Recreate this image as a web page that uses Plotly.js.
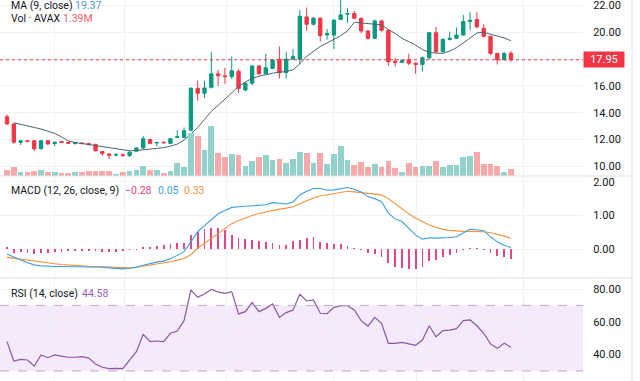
<!DOCTYPE html>
<html>
<head>
<meta charset="utf-8">
<script src="https://cdn.plot.ly/plotly-3.0.1.min.js"></script>
<style>
html,body{margin:0;padding:0;background:#fff;}
#chart{width:640px;height:381px;}
</style>
</head>
<body>
<div id="chart"></div>
<script>
// ---- Price (OHLC) ----
const opens  = [13.70,13.16,11.80,11.90,11.91,11.31,11.91,11.70,11.84,11.79,11.70,11.74,11.70,11.64,11.10,10.92,10.84,10.86,10.80,11.13,
                11.37,12.00,11.74,11.80,11.72,12.16,12.16,12.70,15.82,15.45,15.90,16.90,16.75,16.70,17.09,15.70,16.20,17.49,16.90,17.30,
                17.98,17.00,18.00,18.00,21.15,20.60,21.05,19.80,19.80,20.97,21.35,21.40,21.05,20.10,19.55,20.85,20.15,17.85,17.75,17.95,
                17.70,17.60,18.10,19.97,18.55,19.47,19.55,19.80,20.80,20.95,20.30,19.70,18.43,17.95,18.43];
const closes = [13.16,11.80,11.90,11.86,11.31,11.91,11.66,11.80,11.79,11.72,11.75,11.70,11.62,11.16,10.96,10.82,10.88,10.82,11.05,11.37,
                12.06,11.70,11.78,11.76,12.06,12.20,12.66,15.82,15.45,15.85,16.90,16.75,16.70,17.13,15.82,16.20,17.49,16.90,17.35,17.93,
                16.98,18.00,18.20,21.20,20.60,21.05,19.75,19.90,20.90,21.30,21.40,21.05,20.10,19.55,20.85,20.15,17.80,17.75,17.90,17.70,
                17.60,18.10,19.97,18.55,19.47,19.55,19.80,20.80,20.90,20.40,19.70,18.43,17.95,18.43,17.95];
const highs  = [13.85,13.20,11.95,11.95,11.95,11.95,11.95,11.84,11.88,11.82,11.78,11.78,11.74,11.68,11.14,10.96,10.98,10.96,11.18,11.42,
                12.26,12.06,11.82,11.84,12.10,12.70,12.90,15.90,16.40,16.40,18.55,17.20,17.35,18.20,17.25,16.25,17.55,17.55,18.40,18.00,
                18.95,18.55,18.75,21.66,21.85,21.15,21.10,20.25,21.00,22.45,21.80,21.60,21.10,20.15,20.95,20.95,20.20,18.10,17.98,18.40,
                17.75,18.20,20.00,20.40,19.55,20.05,20.35,21.30,21.50,21.50,20.60,19.75,18.45,18.50,18.60];
const lows   = [13.10,11.68,11.60,11.80,11.16,11.28,11.62,11.50,11.74,11.68,11.62,11.64,11.58,11.10,10.78,10.55,10.72,10.70,10.70,11.10,
                11.30,11.66,11.50,11.72,11.68,12.12,12.10,12.60,14.90,15.10,15.80,16.00,16.15,16.50,15.50,15.60,16.05,16.80,16.85,17.25,
                16.55,16.55,17.95,17.60,20.10,20.50,19.30,19.45,18.75,20.90,20.70,20.95,19.95,19.45,19.50,20.05,17.50,17.45,17.70,17.55,
                16.90,17.05,17.95,18.45,18.50,19.40,19.50,19.75,20.15,20.30,19.60,18.30,17.60,17.90,17.80];
// ---- MA (9, close) ----
const ma9 = [null,13.25,13.15,13.02,12.90,12.78,12.62,12.46,12.20,11.90,11.78,11.70,11.62,11.55,11.46,11.38,11.30,11.24,11.16,11.18,
             11.22,11.28,11.34,11.40,11.50,11.66,11.96,12.40,12.90,13.50,14.10,14.55,15.00,15.50,15.95,16.30,16.55,16.72,16.85,16.95,
             17.02,17.08,17.20,17.65,18.20,18.60,18.95,19.20,19.45,19.75,20.10,20.75,20.70,20.65,20.65,20.55,20.20,19.92,19.55,19.30,
             19.05,18.72,18.50,18.45,18.43,18.60,18.85,19.20,19.60,19.95,20.00,19.85,19.75,19.58,19.37];
// ---- Volume (millions) ----
const volume = [1.25,1.95,0.90,0.76,1.11,1.25,0.76,0.76,0.70,0.56,0.76,0.90,0.97,1.04,1.04,1.04,0.42,0.90,1.11,1.25,
                2.09,1.25,1.25,0.56,1.11,2.78,1.95,8.90,8.34,5.42,10.43,4.87,4.03,4.52,4.38,2.09,3.20,3.89,4.38,3.34,
                3.61,2.78,3.48,5.00,4.73,2.64,4.80,2.57,4.66,6.32,3.27,2.22,2.92,1.88,2.57,1.88,3.13,1.74,0.83,2.71,
                1.88,2.15,2.15,3.13,1.88,2.29,2.29,3.96,4.10,5.00,2.57,2.57,2.15,0.90,1.39];
// ---- MACD (12, 26, close, 9) ----
const macdLine = [-0.14,-0.24,-0.32,-0.40,-0.46,-0.49,-0.51,-0.51,-0.51,-0.51,-0.51,-0.51,-0.51,-0.52,-0.53,-0.55,-0.56,-0.58,-0.56,-0.53,
                  -0.47,-0.42,-0.38,-0.35,-0.28,-0.18,-0.07,0.22,0.52,0.70,0.87,1.05,1.15,1.24,1.26,1.27,1.28,1.30,1.32,1.38,
                  1.36,1.34,1.40,1.61,1.72,1.80,1.80,1.75,1.76,1.80,1.83,1.78,1.70,1.56,1.50,1.41,1.07,0.90,0.82,0.62,
                  0.42,0.30,0.34,0.33,0.33,0.35,0.37,0.47,0.59,0.58,0.55,0.37,0.22,0.12,0.05];
const signalLine = [-0.24,-0.27,-0.30,-0.33,-0.36,-0.39,-0.41,-0.43,-0.45,-0.47,-0.48,-0.49,-0.50,-0.51,-0.52,-0.53,-0.54,-0.55,-0.55,-0.53,
                    -0.50,-0.47,-0.44,-0.41,-0.37,-0.32,-0.27,-0.16,0.03,0.18,0.32,0.47,0.62,0.76,0.85,0.93,1.00,1.06,1.11,1.15,
                    1.19,1.22,1.26,1.35,1.44,1.52,1.58,1.62,1.65,1.68,1.72,1.70,1.68,1.66,1.64,1.61,1.50,1.36,1.20,1.05,
                    0.92,0.82,0.72,0.65,0.59,0.56,0.54,0.53,0.53,0.53,0.52,0.49,0.45,0.39,0.33];
const macdHist = [0.08,-0.10,-0.07,-0.10,-0.14,-0.12,-0.10,-0.08,-0.07,-0.06,-0.06,-0.05,-0.05,-0.06,-0.07,-0.08,-0.08,-0.06,-0.03,-0.01,
                  0.06,0.08,0.10,0.12,0.16,0.18,0.20,0.41,0.52,0.59,0.63,0.63,0.57,0.42,0.33,0.31,0.28,0.25,0.22,0.20,
                  0.12,0.12,0.25,0.28,0.33,0.37,0.23,0.18,0.16,0.15,0.10,0.03,-0.02,-0.12,-0.14,-0.24,-0.41,-0.51,-0.56,-0.59,
                  -0.59,-0.51,-0.36,-0.32,-0.24,-0.17,-0.10,-0.03,0.05,0.03,-0.02,-0.12,-0.20,-0.24,-0.28];
// ---- RSI (14, close) ----
const rsi = [47.9,36.1,37.1,36.7,33.0,39.8,38.1,39.8,39.1,38.4,38.4,38.8,37.9,34.3,32.3,31.4,31.6,31.4,36.7,41.8,
             52.4,47.9,48.3,47.9,53.0,54.4,60.7,79.4,74.9,77.0,79.8,78.2,77.4,78.4,64.8,66.2,71.7,66.2,68.2,70.9,
             62.7,65.6,67.2,76.8,72.7,73.3,65.2,65.0,68.8,69.8,69.8,67.2,60.7,57.4,62.7,59.1,46.9,46.9,47.5,46.5,
             45.7,48.9,57.6,50.9,54.6,54.9,55.8,60.7,61.1,57.6,53.0,46.5,43.8,46.9,44.5];
const priceTicks = [10,12,14,16,18,20,22];
const priceTickText = ['10.00','12.00','14.00','16.00','','20.00','22.00'];
const macdTicks = [0,1,2];
const macdTickText = ['0.00','1.00','2.00'];
const rsiTicks = [40,60,80];
const rsiTickText = ['40.00','60.00','80.00'];
const timeGrid = [7,17.2,32.2,48,60.2,75.9];
const lastPrice = 17.95;

const idx = closes.map((_, i) => i);
const UP = '#089981', DOWN = '#f23645';
const volColors = closes.map((c, i) => c >= opens[i] ? '#92d2cc' : '#f7a9a9');

const FONT = 'Roboto, "Noto Sans", sans-serif';
const traces = [
  {type:'bar', x: idx, y: volume, xaxis:'x', yaxis:'y4', marker:{color: volColors, line:{width:0}}, width:0.84, hoverinfo:'skip'},
  {type:'candlestick', x: idx, open: opens, high: highs, low: lows, close: closes, xaxis:'x', yaxis:'y',
   increasing:{line:{color:UP, width:1}, fillcolor:UP}, decreasing:{line:{color:DOWN, width:1}, fillcolor:DOWN}, whiskerwidth:0},
  {type:'scatter', mode:'lines', x: idx, y: ma9, xaxis:'x', yaxis:'y', line:{color:'#4b6275', width:1}},
  {type:'bar', x: idx, y: macdHist, xaxis:'x', yaxis:'y2', marker:{color:'#e5468a'}, width:0.26},
  {type:'scatter', mode:'lines', x: idx, y: signalLine, xaxis:'x', yaxis:'y2', line:{color:'#f3923f', width:1.1}},
  {type:'scatter', mode:'lines', x: idx, y: macdLine, xaxis:'x', yaxis:'y2', line:{color:'#3d9fe3', width:1.1}},
  {type:'scatter', mode:'lines', x: idx, y: rsi, xaxis:'x', yaxis:'y3', line:{color:'#8a58a0', width:1.2}}
];

const GRID = '#f0f2f6';
const yCommon = {side:'right', showgrid:true, gridcolor:GRID, zeroline:false, showline:false, ticklabeloverflow:'allow',
  ticks:'outside', ticklen:7, tickcolor:'rgba(0,0,0,0)', tickfont:{family:FONT, size:11, color:'#131722'}, fixedrange:true};
const xRight = 632/583;
const LEG = 10.5;
function leg(xpx, ypx, text, color) {
  return {xref:'paper', yref:'paper', x:xpx/583, y:1-ypx/381, xanchor:'left', yanchor:'middle', showarrow:false,
          borderpad:0, text:text, font:{family:FONT, size:LEG, color:color}};
}
const layout = {
  width:640, height:381, margin:{l:0, r:57, t:0, b:0}, paper_bgcolor:'#fff', plot_bgcolor:'rgba(0,0,0,0)',
  showlegend:false, bargap:0,
  xaxis:{range:[-1.03, 84.58], anchor:'y3', tickvals: timeGrid, showticklabels:false, showgrid:true, gridcolor:GRID,
         zeroline:false, showline:false, ticks:'', rangeslider:{visible:false}},
  yaxis: Object.assign({}, yCommon, {domain:[0.5381, 1], range:[9.28, 22.41], tickvals: priceTicks, ticktext: priceTickText}),
  yaxis4:{overlaying:'y', range:[0, 36.7], visible:false, fixedrange:true},
  yaxis2: Object.assign({}, yCommon, {domain:[0.2703, 0.5381], range:[-0.85, 2.17], tickvals: macdTicks, ticktext: macdTickText}),
  yaxis3: Object.assign({}, yCommon, {domain:[0, 0.2703], range:[23.9, 86.7], tickvals: rsiTicks, ticktext: rsiTickText}),
  shapes:[
    {type:'rect', xref:'paper', x0:0, x1:1, yref:'y3', y0:30, y1:70, fillcolor:'rgba(190,130,240,0.17)', line:{width:0}, layer:'below'},
    {type:'line', xref:'paper', x0:0, x1:1, yref:'y3', y0:70, y1:70, line:{color:'#b7aec0', width:1, dash:'dash'}},
    {type:'line', xref:'paper', x0:0, x1:1, yref:'y3', y0:30, y1:30, line:{color:'#b7aec0', width:1, dash:'dash'}},
    {type:'line', xref:'paper', x0:0, x1:1, yref:'y', y0:lastPrice, y1:lastPrice, line:{color:DOWN, width:1, dash:'dot'}},
    {type:'line', xref:'paper', x0:0, x1:xRight, yref:'paper', y0:0.5381, y1:0.5381, line:{color:'#e0e3eb', width:1}},
    {type:'line', xref:'paper', x0:0, x1:xRight, yref:'paper', y0:0.2703, y1:0.2703, line:{color:'#e0e3eb', width:1}},
    {type:'line', xref:'paper', x0:xRight, x1:xRight, yref:'paper', y0:0, y1:1, line:{color:'#e0e3eb', width:1}}
  ],
  annotations:[
    {xref:'paper', yref:'y', x:1.0, y:lastPrice, xanchor:'left', yanchor:'middle', showarrow:false,
     text:'17.95', font:{family:FONT, size:11, color:'#fff'}, bgcolor:DOWN, width:38, height:13, borderpad:1, align:'center'},
    leg(10, 5, 'MA (9, close)', '#131722'),
    leg(74, 5, '19.37', '#4f98d8'),
    leg(10, 19, 'Vol · AVAX', '#131722'),
    leg(62, 19, '1.39M', '#ef5e66'),
    leg(10, 190, 'MACD (12, 26, close, 9)', '#131722'),
    leg(124, 190, '\u22120.28', '#e5468a'),
    leg(157, 190, '0.05', '#3d9fe3'),
    leg(183, 190, '0.33', '#f3923f'),
    leg(10, 293, 'RSI (14, close)', '#131722'),
    leg(81, 293, '44.58', '#9a5fb2')
  ]
};
Plotly.newPlot('chart', traces, layout, {staticPlot:true, displayModeBar:false});
</script>
</body>
</html>
